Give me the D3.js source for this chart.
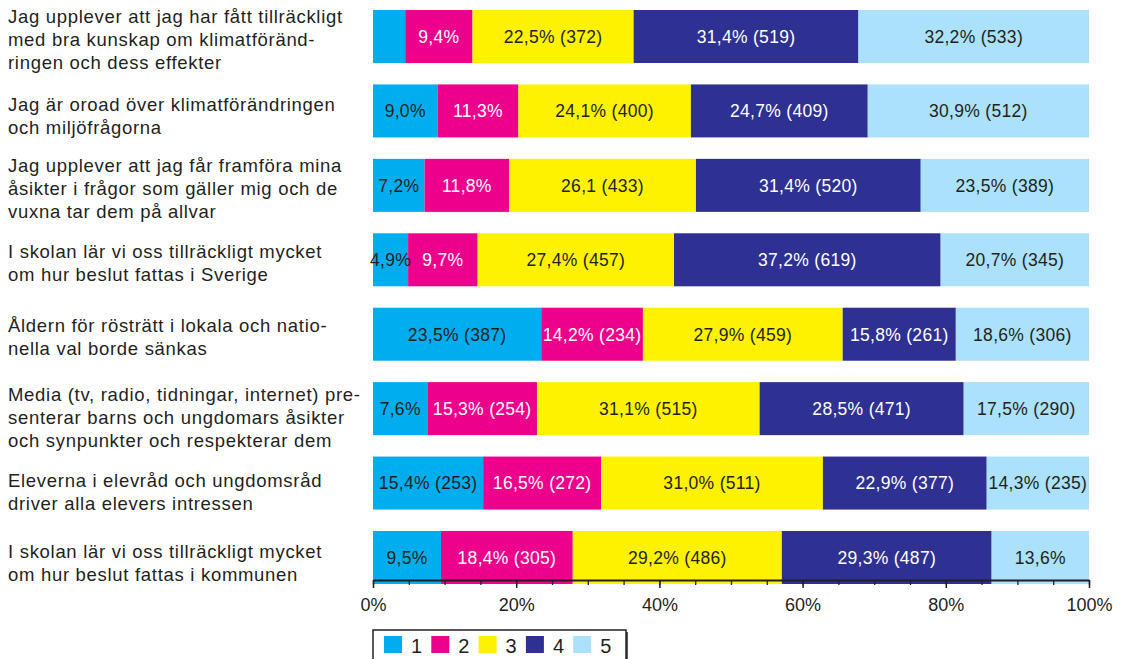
<!DOCTYPE html>
<html>
<head>
<meta charset="utf-8">
<script src="https://cdn.jsdelivr.net/npm/d3@7"></script>
<style>
  body { margin: 0; background: #fff; }
  svg { display: block; font-family: "Liberation Sans", Arial, sans-serif; }
</style>
</head>
<body>
<div id="chart"></div>
<script>
// questions, one entry per bar (lines as printed)
const categories = [
  ["Jag upplever att jag har fått tillräckligt", "med bra kunskap om klimatföränd-", "ringen och dess effekter"],
  ["Jag är oroad över klimatförändringen", "och miljöfrågorna"],
  ["Jag upplever att jag får framföra mina", "åsikter i frågor som gäller mig och de", "vuxna tar dem på allvar"],
  ["I skolan lär vi oss tillräckligt mycket", "om hur beslut fattas i Sverige"],
  ["Åldern för rösträtt i lokala och natio-", "nella val borde sänkas"],
  ["Media (tv, radio, tidningar, internet) pre-", "senterar barns och ungdomars åsikter", "och synpunkter och respekterar dem"],
  ["Eleverna i elevråd och ungdomsråd", "driver alla elevers intressen"],
  ["I skolan lär vi oss tillräckligt mycket", "om hur beslut fattas i kommunen"]
];

const seriesKeys = ["1", "2", "3", "4", "5"];

// percentages per answer
const s1 = [4.5, 9.0, 7.2, 4.9, 23.5, 7.6, 15.4, 9.5];
const s2 = [9.4, 11.3, 11.8, 9.7, 14.2, 15.3, 16.5, 18.4];
const s3 = [22.5, 24.1, 26.1, 27.4, 27.9, 31.1, 31.0, 29.2];
const s4 = [31.4, 24.7, 31.4, 37.2, 15.8, 28.5, 22.9, 29.3];
const s5 = [32.2, 30.9, 23.5, 20.7, 18.6, 17.5, 14.3, 13.6];

// texts printed in the segments
const l1 = ["", "9,0%", "7,2%", "4,9%", "23,5% (387)", "7,6%", "15,4% (253)", "9,5%"];
const l2 = ["9,4%", "11,3%", "11,8%", "9,7%", "14,2% (234)", "15,3% (254)", "16,5% (272)", "18,4% (305)"];
const l3 = ["22,5% (372)", "24,1% (400)", "26,1 (433)", "27,4% (457)", "27,9% (459)", "31,1% (515)", "31,0% (511)", "29,2% (486)"];
const l4 = ["31,4% (519)", "24,7% (409)", "31,4% (520)", "37,2% (619)", "15,8% (261)", "28,5% (471)", "22,9% (377)", "29,3% (487)"];
const l5 = ["32,2% (533)", "30,9% (512)", "23,5% (389)", "20,7% (345)", "18,6% (306)", "17,5% (290)", "14,3% (235)", "13,6%"];

const majorTicks = [0, 0.2, 0.4, 0.6, 0.8, 1];
const minorTicks = d3.range(0, 21).map(d => d * 0.05);

const colors = ["#00aeef", "#ec008c", "#fff200", "#2e3192", "#abe1fa"];
const textColors = ["#231f20", "#ffffff", "#231f20", "#ffffff", "#231f20"];

// the question texts do not sit exactly on the bar centres in the original layout
const labelShift = [2.5, 4.5, 2.5, 3, 3, 8.5, 9, 5];

const width = 1124, height = 659;
const values = [s1, s2, s3, s4, s5];
const labels = [l1, l2, l3, l4, l5];

// build rows for d3.stack
let rows = categories.map((c, i) => {
  let r = { idx: i };
  seriesKeys.forEach((k, j) => r[k] = values[j][i]);
  return r;
});

const stack = d3.stack().keys(seriesKeys).offset(d3.stackOffsetExpand);
const stacked = stack(rows);

const x = d3.scaleLinear().domain([0, 1]).range([373, 1089]);
const y = d3.scaleBand()
  .domain(d3.range(categories.length))
  .range([10, 584])
  .paddingInner(0.2876)
  .paddingOuter(0);

const svg = d3.select("#chart").append("svg")
  .attr("width", width)
  .attr("height", height);

// bars
const layer = svg.selectAll("g.layer")
  .data(stacked)
  .enter().append("g")
  .attr("class", "layer")
  .attr("fill", (d, i) => colors[i]);

layer.selectAll("rect")
  .data(d => d)
  .enter().append("rect")
  .attr("x", d => x(d[0]))
  .attr("y", (d, i) => y(i))
  .attr("width", d => x(d[1]) - x(d[0]))
  .attr("height", y.bandwidth());

// segment labels
stacked.forEach((s, j) => {
  svg.append("g").selectAll("text")
    .data(s)
    .enter().append("text")
    .attr("x", d => (x(d[0]) + x(d[1])) / 2)
    .attr("y", (d, i) => y(i) + y.bandwidth() / 2)
    .attr("dy", "0.36em")
    .attr("text-anchor", "middle")
    .attr("fill", textColors[j])
    .style("font-size", "17.5px")
    .style("letter-spacing", "0.3px")
    .text((d, i) => labels[j][i]);
});

// question labels on the left
const lineH = 23;
categories.forEach((lines, i) => {
  const cy = y(i) + y.bandwidth() / 2 + labelShift[i];
  const t = svg.append("text")
    .attr("x", 8)
    .attr("fill", "#231f20")
    .style("font-size", "18.5px")
    .style("letter-spacing", "0.7px");
  lines.forEach((ln, k) => {
    t.append("tspan")
      .attr("x", 8)
      .attr("y", cy + (k - (lines.length - 1) / 2) * lineH)
      .attr("dy", "0.36em")
      .text(ln);
  });
});

// x axis: minor ticks then major ticks with labels
const axisY = 580;
svg.append("g")
  .attr("transform", "translate(0," + axisY + ")")
  .call(d3.axisBottom(x).tickValues(minorTicks).tickSize(5).tickFormat(""))
  .call(g => g.select(".domain").remove())
  .call(g => g.selectAll("line").attr("stroke", "#231f20").attr("stroke-width", 1.3));

const xAxis = svg.append("g")
  .attr("transform", "translate(0," + axisY + ")")
  .call(d3.axisBottom(x).tickValues(majorTicks).tickSize(8).tickSizeOuter(0).tickPadding(10)
    .tickFormat(d => Math.round(d * 100) + "%"));
xAxis.select(".domain").attr("stroke", "#231f20").attr("stroke-width", 2);
xAxis.selectAll("line").attr("stroke", "#231f20").attr("stroke-width", 1.5);
xAxis.selectAll("text")
  .attr("fill", "#231f20")
  .style("font-size", "18px")
  .style("font-family", "'Liberation Sans', Arial, sans-serif");

// legend box
const lg = svg.append("g").attr("transform", "translate(373,630)");
lg.append("rect")
  .attr("x", 2).attr("y", 2)
  .attr("width", 253).attr("height", 40)
  .attr("fill", "#555");
lg.append("rect")
  .attr("width", 253).attr("height", 40)
  .attr("fill", "#fff")
  .attr("stroke", "#231f20")
  .attr("stroke-width", 1.5);

const item = lg.selectAll("g.item")
  .data(seriesKeys)
  .enter().append("g")
  .attr("class", "item")
  .attr("transform", (d, i) => "translate(" + (11 + i * 47.3) + ",6)");
item.append("rect")
  .attr("width", 18).attr("height", 17)
  .attr("fill", (d, i) => colors[i]);
item.append("text")
  .attr("x", 27)
  .attr("y", 17)
  .attr("fill", "#231f20")
  .style("font-size", "20px")
  .text(d => d);
</script>
</body>
</html>
